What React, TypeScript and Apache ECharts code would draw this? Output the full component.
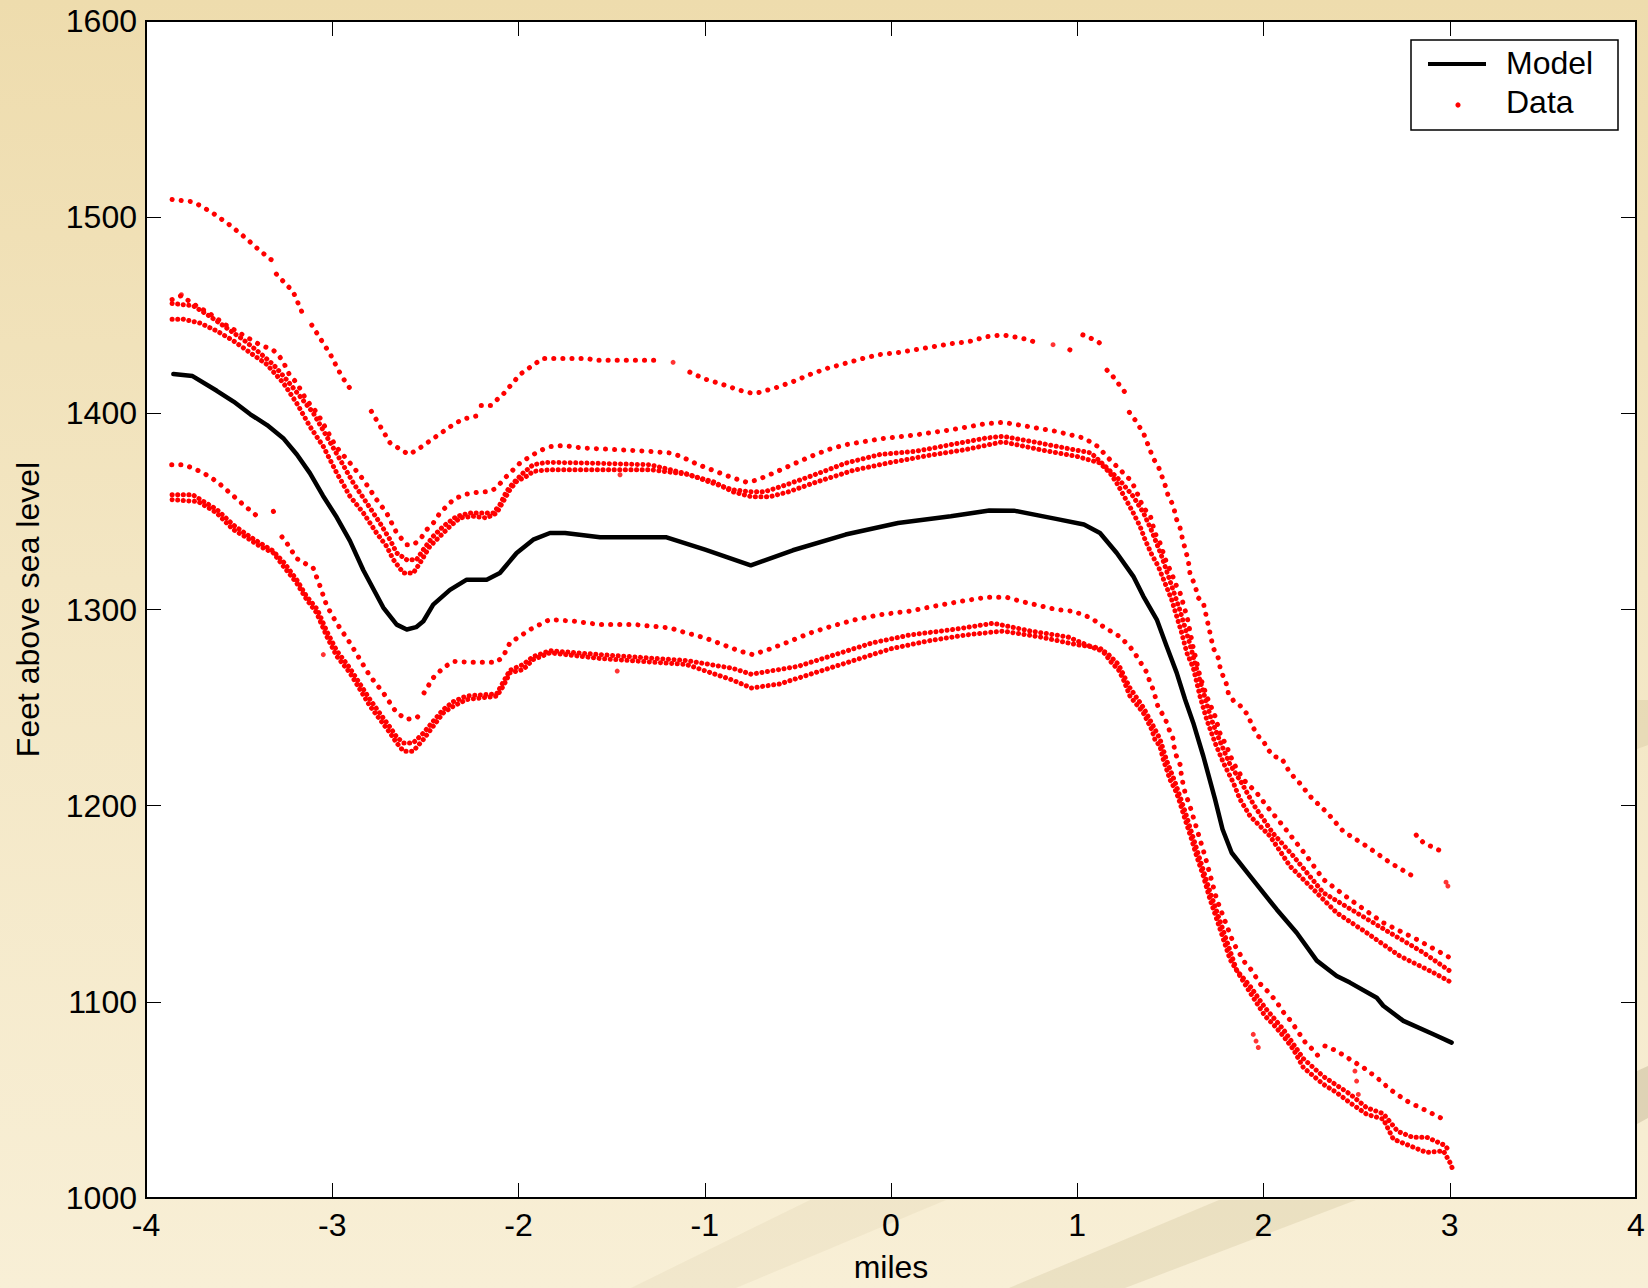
import React, { useEffect, useRef } from 'react';
import * as echarts from 'echarts';

type P = [number, number] | null;

const FONT = '"Liberation Sans", Arial, Helvetica, sans-serif';

const xTickValues = [-4, -3, -2, -1, 0, 1, 2, 3, 4];
const yTickValues = [1000, 1100, 1200, 1300, 1400, 1500, 1600];
const xAxisTitle = 'miles';
const yAxisTitle = 'Feet above sea level';
const legendLabels = ['Model', 'Data'];

const modelLine: P[] = [
  [-3.853, 1420], [-3.75, 1419], [-3.62, 1411.5], [-3.53, 1406], [-3.44, 1399.5], [-3.35, 1394],
  [-3.26, 1387], [-3.19, 1379], [-3.12, 1369.5], [-3.05, 1358], [-2.976, 1347], [-2.905, 1335],
  [-2.833, 1320], [-2.726, 1301], [-2.654, 1292.3], [-2.6, 1289.8], [-2.55, 1291], [-2.511, 1294],
  [-2.458, 1302.5], [-2.368, 1310], [-2.278, 1315.2], [-2.171, 1315.2], [-2.1, 1318.6], [-2.01, 1328.8],
  [-1.921, 1335.6], [-1.831, 1339], [-1.75, 1339], [-1.562, 1336.8], [-1.205, 1336.8], [-0.998, 1330.5],
  [-0.753, 1322.5], [-0.527, 1330.2], [-0.244, 1338.2], [0.038, 1344.1], [0.321, 1347.5], [0.528, 1350.5],
  [0.66, 1350.4], [0.886, 1346.2], [1.036, 1343.3], [1.122, 1339], [1.212, 1328.8], [1.301, 1316.9],
  [1.355, 1306.7], [1.427, 1294.9], [1.48, 1281.3], [1.534, 1267.7], [1.579, 1254.1], [1.623, 1242.2],
  [1.677, 1225.2], [1.74, 1203.2], [1.78, 1188], [1.829, 1176], [1.928, 1164.1], [2.071, 1147.1],
  [2.178, 1135.2], [2.286, 1121], [2.393, 1113.2], [2.464, 1109.8], [2.608, 1102.1], [2.643, 1098],
  [2.751, 1090.3], [2.912, 1083.5], [3.01, 1079.2],
];

// Measured tracks (sparse ones)
const trackA: P[] = [
  [-3.86, 1509], [-3.76, 1508], [-3.71, 1506], [-3.64, 1502], [-3.55, 1496], [-3.46, 1489], [-3.39, 1483], [-3.31, 1477],
  null,
  [-3.3, 1471], [-3.21, 1462], [-3.16, 1451],
  null,
  [-3.11, 1445], [-3.01, 1430], [-2.95, 1419], [-2.9, 1412],
  null,
  [-2.79, 1401], [-2.69, 1385], [-2.59, 1379], [-2.55, 1381], [-2.46, 1387], [-2.37, 1393], [-2.3, 1397], [-2.21, 1399],
  null,
  [-2.2, 1404], [-2.15, 1404], [-2.08, 1410], [-1.99, 1420], [-1.87, 1428], [-1.63, 1428], [-1.59, 1427], [-1.25, 1427],
  null,
  [-1.08, 1421], [-1.0, 1417.5], [-0.9, 1414.6], [-0.81, 1411.7], [-0.75, 1410.3], [-0.71, 1410.6], [-0.62, 1413],
  [-0.53, 1416], [-0.43, 1420], [-0.34, 1423], [-0.24, 1425.6], [-0.15, 1428], [-0.06, 1430], [0.04, 1431],
  [0.13, 1432.4], [0.23, 1434], [0.32, 1435.5], [0.42, 1436.6], [0.51, 1439], [0.6, 1440], [0.66, 1439],
  [0.74, 1437.5], [0.78, 1436],
  null,
  [0.96, 1432.4], [1.0, 1431],
  null,
  [1.03, 1440], [1.07, 1438.4], [1.11, 1436.6], [1.15, 1433.6],
  null,
  [1.16, 1422], [1.19, 1419], [1.23, 1414], [1.27, 1409],
  null,
  [1.28, 1400.5], [1.31, 1396.7], [1.355, 1390], [1.39, 1381.5], [1.408, 1377], [1.435, 1373], [1.471, 1363.6],
  [1.489, 1357.7], [1.516, 1353], [1.53, 1346.7], [1.552, 1341.6], [1.566, 1335.6], [1.596, 1325], [1.605, 1318.6],
  [1.632, 1312.3], [1.65, 1306], [1.677, 1303.4], [1.691, 1297.4], [1.713, 1288], [1.73, 1280.4], [1.757, 1275.3],
  [1.77, 1269], [1.799, 1262.6], [1.811, 1257.5], [1.838, 1253.6], [1.874, 1251], [1.918, 1246], [1.937, 1241],
  [1.972, 1235.4], [2.0, 1233], [2.017, 1229.5], [2.053, 1225.2], [2.098, 1224], [2.142, 1216.8], [2.196, 1211.3],
  [2.25, 1204.8], [2.341, 1196.5], [2.427, 1187], [2.556, 1179.2], [2.679, 1171], [2.803, 1164],
  null,
  [2.82, 1185], [2.86, 1181], [2.95, 1177],
];

const trackB1: P[] = [
  [-3.86, 1458], [-3.81, 1460], [-3.75, 1456], [-3.66, 1451], [-3.57, 1445], [-3.48, 1440], [-3.39, 1435],
  [-3.32, 1432.4], [-3.29, 1430], [-3.26, 1425.6], [-3.23, 1419.7], [-3.19, 1415.4], [-3.14, 1407], [-3.08, 1400],
  [-3.03, 1391.6], [-2.98, 1383], [-2.905, 1374.7], [-2.833, 1366.2], [-2.762, 1356], [-2.708, 1349.2],
  [-2.654, 1339], [-2.6, 1333], [-2.565, 1333], [-2.529, 1335.6], [-2.493, 1340.7], [-2.458, 1344],
  [-2.422, 1349.2], [-2.386, 1352.6], [-2.35, 1356], [-2.296, 1358.5], [-2.225, 1359.7], [-2.153, 1360.2],
  [-2.117, 1362], [-2.082, 1366.2], [-2.046, 1369.6], [-1.992, 1374.7], [-1.938, 1378], [-1.885, 1381],
  [-1.831, 1383], [-1.759, 1383.6], [-1.652, 1382.3], [-1.473, 1381.5], [-1.294, 1380.6], [-1.185, 1379.8],
  [-1.129, 1378.1], [-1.035, 1373.8], [-0.941, 1370.4], [-0.847, 1367], [-0.772, 1364.8], [-0.72, 1366],
  [-0.62, 1370], [-0.527, 1374], [-0.432, 1378], [-0.338, 1381.5], [-0.244, 1384], [-0.056, 1387],
  [0.133, 1389], [0.321, 1391.6], [0.509, 1394.7], [0.603, 1395.4], [0.735, 1393.3], [0.886, 1390.8],
  [1.036, 1387.4], [1.112, 1383], [1.158, 1378], [1.212, 1373], [1.283, 1366.2], [1.31, 1362], [1.355, 1351.8],
  [1.391, 1348.3], [1.417, 1339], [1.444, 1334], [1.48, 1323.7], [1.507, 1318.6], [1.525, 1313.5],
  [1.552, 1308.5], [1.591, 1295.7], [1.623, 1280.4], [1.659, 1266], [1.695, 1255.8], [1.74, 1245.6],
  [1.766, 1237], [1.802, 1230.3], [1.838, 1221.8], [1.892, 1213.3], [1.963, 1206.6], [2.017, 1199.8],
  [2.106, 1189.6], [2.232, 1174.3], [2.321, 1162.4], [2.464, 1152.2], [2.643, 1140.3], [2.823, 1131.8],
  [3.001, 1122.5],
];

const trackC: P[] = [
  [-3.862, 1373.8], [-3.8, 1373.8], [-3.746, 1372], [-3.692, 1369.6], [-3.62, 1365.3], [-3.549, 1359.4],
  [-3.477, 1353.4], [-3.406, 1347.8],
  null,
  [-3.316, 1350], [-3.298, 1345.8],
  null,
  [-3.27, 1337], [-3.245, 1334], [-3.191, 1326], [-3.102, 1321], [-3.066, 1312], [-3.03, 1302], [-2.976, 1293],
  [-2.905, 1283], [-2.851, 1274.5], [-2.797, 1266], [-2.726, 1257.5], [-2.654, 1247.3], [-2.6, 1244],
  [-2.547, 1244.8], [-2.52, 1247.3],
  null,
  [-2.507, 1257.5], [-2.458, 1265.2], [-2.404, 1270.3], [-2.35, 1273.6], [-2.26, 1273.1], [-2.117, 1273.1],
  [-2.082, 1276.2], [-2.046, 1283], [-1.992, 1286.4], [-1.938, 1289.8], [-1.867, 1293.2], [-1.831, 1294.9],
  [-1.7, 1294], [-1.562, 1292.3], [-1.374, 1292.3], [-1.185, 1290.6], [-1.129, 1288.9], [-0.998, 1285.5],
  [-0.903, 1282.1], [-0.809, 1278.7], [-0.743, 1277], [-0.658, 1279.6], [-0.564, 1283], [-0.432, 1288.1],
  [-0.319, 1291.5], [-0.188, 1294.9], [-0.056, 1297.4], [0.095, 1299.1], [0.227, 1301.6], [0.378, 1304.2],
  [0.509, 1306.2], [0.622, 1306.2], [0.697, 1304.2], [0.773, 1302.5], [0.886, 1300], [0.98, 1299.1],
  [1.074, 1295.7], [1.15, 1290.6], [1.225, 1286.4], [1.281, 1281.3], [1.319, 1276.2], [1.375, 1267.7],
  [1.391, 1262.6], [1.408, 1259.2], [1.435, 1249.9], [1.471, 1244.8], [1.489, 1239.7], [1.513, 1234.6],
  [1.525, 1227], [1.552, 1221], [1.561, 1214.2], [1.579, 1206.6], [1.605, 1199.8], [1.686, 1174.3],
  [1.749, 1152.2], [1.838, 1130.1], [1.9, 1120], [1.937, 1116], [1.981, 1109.3], [2.026, 1105],
  [2.071, 1099.9], [2.106, 1094.8], [2.151, 1089.7], [2.187, 1084.6], [2.223, 1079.5], [2.268, 1075.3],
  [2.313, 1070.2],
];

const trackE: P[] = [
  [2.33, 1077.5], [2.393, 1075], [2.464, 1070.7], [2.536, 1066.5], [2.608, 1061.4], [2.679, 1055.4],
  [2.768, 1049.5], [2.858, 1045.3], [2.984, 1039.3],
];

// Measured tracks (dense ones)
const trackB2: P[] = [
  [-3.86, 1456], [-3.746, 1454.8], [-3.656, 1449.4], [-3.567, 1443.5], [-3.477, 1437.5], [-3.388, 1430.7],
  [-3.316, 1424.8], [-3.245, 1417.1], [-3.173, 1408.6], [-3.102, 1400.2], [-3.03, 1388.2], [-2.958, 1376.4],
  [-2.887, 1364.5], [-2.815, 1354.3], [-2.744, 1344.1], [-2.69, 1335.6], [-2.654, 1328.8], [-2.6, 1325.4],
  [-2.547, 1325.4], [-2.511, 1330.5], [-2.458, 1337.3], [-2.404, 1342.4], [-2.332, 1347.5], [-2.26, 1349.2],
  [-2.135, 1349.2], [-2.1, 1353.4], [-2.064, 1360.2], [-2.028, 1364.5], [-1.975, 1369.6], [-1.921, 1373.8],
  [-1.849, 1375], [-1.652, 1374.7], [-1.294, 1373.8], [-1.09, 1369], [-0.96, 1364.5], [-0.85, 1361],
  [-0.75, 1360], [-0.68, 1360], [-0.58, 1363], [-0.43, 1368], [-0.24, 1374.7], [-0.06, 1379], [0.13, 1380.6],
  [0.32, 1384], [0.51, 1387.4], [0.6, 1388.3], [0.79, 1385], [0.98, 1381.5], [1.074, 1379.8], [1.15, 1373],
  [1.225, 1366.2], [1.3, 1357.7], [1.356, 1349.2], [1.4, 1340], [1.45, 1328], [1.5, 1314], [1.55, 1300],
  [1.6, 1284], [1.64, 1270], [1.68, 1257], [1.72, 1244], [1.77, 1232], [1.82, 1221], [1.88, 1212],
  [1.95, 1200], [2.05, 1186], [2.16, 1174.3], [2.321, 1155.6], [2.5, 1145.4], [2.679, 1135.2],
  [2.858, 1125.1], [3.001, 1115.7],
];

const trackB3: P[] = [
  [-3.86, 1448], [-3.8, 1448], [-3.709, 1446], [-3.62, 1442], [-3.531, 1437], [-3.442, 1431], [-3.352, 1425],
  [-3.262, 1415.4], [-3.191, 1405.2], [-3.12, 1393.3], [-3.048, 1383.1], [-2.976, 1369.6], [-2.905, 1357.7],
  [-2.833, 1349.2], [-2.762, 1339], [-2.708, 1332.2], [-2.672, 1325.4], [-2.618, 1318.6], [-2.565, 1318.6],
  [-2.529, 1323.7], [-2.476, 1332.2], [-2.422, 1337.3], [-2.368, 1342.4], [-2.314, 1346.7], [-2.243, 1347.5],
  [-2.171, 1346.7], [-2.117, 1349.2], [-2.082, 1355.1], [-2.046, 1361.1], [-2.01, 1365.3], [-1.957, 1367.9],
  [-1.921, 1370.4], [-1.831, 1371.3], [-1.294, 1371.3], [-1.1, 1369], [-0.95, 1365], [-0.85, 1360],
  [-0.75, 1357.5], [-0.65, 1357.5], [-0.55, 1360], [-0.4, 1365], [-0.2, 1371], [0.0, 1375], [0.2, 1378.5],
  [0.4, 1381.5], [0.6, 1385.5], [0.8, 1381.5], [1.0, 1378], [1.122, 1374.7], [1.176, 1369.6], [1.212, 1364.5],
  [1.257, 1356.8], [1.301, 1349.2], [1.337, 1342.4], [1.364, 1335.6], [1.4, 1328], [1.435, 1322],
  [1.471, 1313.5], [1.507, 1305], [1.534, 1296.5], [1.561, 1288], [1.588, 1278], [1.623, 1270.3],
  [1.659, 1255.8], [1.695, 1243.9], [1.74, 1232], [1.785, 1221.8], [1.838, 1211.7], [1.874, 1203.2],
  [1.928, 1194.7], [2.035, 1184.5], [2.142, 1169.2], [2.25, 1159], [2.393, 1145.4], [2.554, 1135.2],
  [2.733, 1123.3], [2.912, 1114.9], [3.01, 1109.8],
];

const trackD1: P[] = [
  [-3.86, 1358.5], [-3.75, 1358.5], [-3.62, 1351], [-3.53, 1343], [-3.44, 1337], [-3.39, 1334], [-3.32, 1330],
  [-3.26, 1324], [-3.19, 1315], [-3.14, 1307], [-3.08, 1300], [-3.03, 1289], [-2.976, 1279], [-2.905, 1270],
  [-2.851, 1262], [-2.797, 1254], [-2.744, 1247], [-2.69, 1240], [-2.654, 1235], [-2.618, 1232],
  [-2.565, 1232], [-2.511, 1237], [-2.458, 1243], [-2.404, 1249], [-2.35, 1253], [-2.278, 1256],
  [-2.117, 1257], [-2.082, 1263], [-2.046, 1269], [-1.975, 1272], [-1.921, 1276], [-1.831, 1279],
  [-1.56, 1277], [-1.1, 1274], [-0.85, 1270], [-0.75, 1267], [-0.5, 1271], [-0.3, 1277], [-0.1, 1283],
  [0.1, 1287], [0.35, 1290], [0.55, 1293], [0.75, 1289], [0.95, 1286], [1.1, 1280], [1.158, 1278],
  [1.221, 1272], [1.283, 1260], [1.355, 1250], [1.4, 1242], [1.444, 1234], [1.48, 1223], [1.525, 1212],
  [1.579, 1197], [1.641, 1178], [1.713, 1156], [1.785, 1136], [1.856, 1116], [1.928, 1108], [2.008, 1097],
  [2.106, 1086], [2.214, 1071], [2.321, 1062], [2.464, 1053], [2.554, 1046], [2.643, 1043], [2.72, 1034],
  [2.8, 1031], [2.876, 1031], [2.97, 1027], [3.0, 1024],
];

const trackD2: P[] = [
  [-3.86, 1356], [-3.72, 1355], [-3.62, 1349.2], [-3.531, 1340.7], [-3.442, 1335.6], [-3.388, 1332.2],
  [-3.316, 1328.8], [-3.262, 1322], [-3.191, 1313.5], [-3.137, 1305], [-3.084, 1298.3], [-3.03, 1286.4],
  [-2.976, 1276.2], [-2.905, 1267.7], [-2.851, 1259.2], [-2.797, 1250.7], [-2.744, 1243.9], [-2.69, 1237.1],
  [-2.654, 1232], [-2.618, 1227.8], [-2.565, 1227.8], [-2.511, 1233.7], [-2.458, 1240.5], [-2.404, 1247.3],
  [-2.35, 1250.7], [-2.278, 1254.1], [-2.117, 1255.8], [-2.082, 1260.9], [-2.046, 1267.7], [-1.975, 1269.4],
  [-1.921, 1274.5], [-1.831, 1277.9], [-1.56, 1275], [-1.1, 1272], [-0.85, 1264], [-0.75, 1260], [-0.6, 1262],
  [-0.4, 1268], [-0.2, 1274], [0.0, 1280], [0.2, 1284], [0.4, 1287], [0.6, 1289], [0.8, 1286], [1.0, 1282],
  [1.122, 1280.4], [1.158, 1276.2], [1.185, 1272.8], [1.221, 1269.4], [1.248, 1264.3], [1.283, 1255.8],
  [1.355, 1247.3], [1.373, 1243.9], [1.4, 1238.8], [1.417, 1233.7], [1.444, 1230.3], [1.462, 1223.5],
  [1.48, 1218.4], [1.498, 1213.3], [1.525, 1208.3], [1.543, 1204], [1.579, 1193], [1.614, 1182.8],
  [1.641, 1174.3], [1.677, 1164.1], [1.713, 1152.2], [1.749, 1142.1], [1.785, 1131.8], [1.82, 1121.7],
  [1.874, 1113.2], [1.928, 1104.7], [2.008, 1092.8], [2.053, 1088.5], [2.106, 1082.6], [2.16, 1075.8],
  [2.214, 1066.5], [2.268, 1062.2], [2.321, 1058], [2.393, 1053.7], [2.464, 1048.6], [2.554, 1042.7],
  [2.643, 1040.2], [2.697, 1030], [2.786, 1026.6], [2.876, 1023.2], [2.966, 1024], [3.001, 1018.1],
  [3.019, 1013.9],
];

const isolatedPoints: [number, number][] = [
  [-1.17, 1426], [0.87, 1435], [2.98, 1161], [2.99, 1159], [-1.455, 1368.7], [-1.47, 1268.6], [-3.048, 1277],
  [1.945, 1083.4], [1.96, 1080], [1.972, 1076.7], [2.491, 1064.7], [2.5, 1059.6], [2.509, 1052.8],
  [-3.81, 1460.5],
];

const sparseTracks = [trackA, trackB1, trackC, trackE];
const denseTracks = [trackB2, trackB3, trackD1, trackD2];

const toSeriesData = (pts: P[]) => pts.map((p) => (p ? p : [null, null]));

export default function App() {
  const ref = useRef<HTMLDivElement>(null);

  useEffect(() => {
    document.body.style.margin = '0';
    if (!ref.current) return;
    const chart = echarts.init(ref.current, null, { renderer: 'svg' });

    const dotLine = (gap: number) => ({
      color: '#ff0000',
      width: 5,
      type: [0.1, gap],
      cap: 'round',
    });

    const series: any[] = [];
    sparseTracks.forEach((t) => {
      series.push({
        name: legendLabels[1],
        type: 'line',
        data: toSeriesData(t),
        showSymbol: false,
        symbol: 'none',
        connectNulls: false,
        silent: true,
        lineStyle: dotLine(9),
        z: 3,
      });
    });
    denseTracks.forEach((t) => {
      series.push({
        name: legendLabels[1],
        type: 'line',
        data: toSeriesData(t),
        showSymbol: false,
        symbol: 'none',
        connectNulls: false,
        silent: true,
        lineStyle: dotLine(5.5),
        z: 3,
      });
    });
    series.push({
      name: legendLabels[1],
      type: 'scatter',
      data: isolatedPoints,
      symbol: 'circle',
      symbolSize: 5,
      itemStyle: { color: '#ff0000' },
      silent: true,
      z: 3,
    });
    series.push({
      name: legendLabels[0],
      type: 'line',
      data: toSeriesData(modelLine),
      showSymbol: false,
      symbol: 'none',
      silent: true,
      lineStyle: { color: '#000', width: 4.5, join: 'round', cap: 'round' },
      z: 4,
    });

    const axisCommon = {
      axisLine: { show: true, onZero: false, lineStyle: { color: '#000', width: 2 } },
      axisTick: { show: true, inside: true, length: 15, lineStyle: { color: '#000', width: 1 } },
      splitLine: { show: false },
    };

    const option: any = {
      animation: false,
      backgroundColor: 'transparent',
      grid: {
        left: 146,
        top: 21,
        right: 12,
        bottom: 90,
        show: true,
        backgroundColor: '#ffffff',
        borderColor: '#222',
        borderWidth: 2,
      },
      xAxis: [
        {
          type: 'value',
          min: xTickValues[0],
          max: xTickValues[xTickValues.length - 1],
          interval: 1,
          position: 'bottom',
          ...axisCommon,
          axisLabel: {
            fontSize: 32,
            color: '#000',
            fontFamily: FONT,
            margin: 11,
            formatter: (v: number) => String(v),
          },
          name: xAxisTitle,
          nameLocation: 'middle',
          nameGap: 53,
          nameTextStyle: { fontSize: 32, color: '#000', fontFamily: FONT },
        },
        {
          type: 'value',
          min: xTickValues[0],
          max: xTickValues[xTickValues.length - 1],
          interval: 1,
          position: 'top',
          ...axisCommon,
          axisLabel: { show: false },
        },
      ],
      yAxis: [
        {
          type: 'value',
          min: yTickValues[0],
          max: yTickValues[yTickValues.length - 1],
          interval: 100,
          position: 'left',
          ...axisCommon,
          axisLabel: {
            fontSize: 32,
            color: '#000',
            fontFamily: FONT,
            margin: 9,
            formatter: (v: number) => String(v),
          },
          name: yAxisTitle,
          nameLocation: 'middle',
          nameRotate: 90,
          nameGap: 102,
          nameTextStyle: { fontSize: 32, color: '#000', fontFamily: FONT },
        },
        {
          type: 'value',
          min: yTickValues[0],
          max: yTickValues[yTickValues.length - 1],
          interval: 100,
          position: 'right',
          ...axisCommon,
          axisLabel: { show: false },
        },
      ],
      graphic: [
        {
          type: 'polygon',
          silent: true,
          z: -10,
          shape: { points: [[631, 1288], [736, 1288], [946, 1200], [810, 1200]] },
          style: { fill: 'rgba(190,170,120,0.10)' },
        },
        {
          type: 'polygon',
          silent: true,
          z: -10,
          shape: { points: [[1009, 1288], [1125, 1288], [1356, 1200], [1219, 1200]] },
          style: { fill: 'rgba(180,160,110,0.18)' },
        },
        {
          type: 'polygon',
          silent: true,
          z: -10,
          shape: { points: [[1637, 1071], [1648, 1066], [1648, 1118], [1637, 1124]] },
          style: { fill: 'rgba(150,135,100,0.25)' },
        },
        {
          type: 'polygon',
          silent: true,
          z: -10,
          shape: { points: [[1637, 700], [1648, 700], [1648, 745], [1637, 749]] },
          style: { fill: 'rgba(180,160,110,0.18)' },
        },
        {
          type: 'rect',
          silent: true,
          z: 100,
          shape: { x: 1411, y: 40, width: 207, height: 90 },
          style: { fill: '#ffffff', stroke: '#000', lineWidth: 1.5 },
        },
        {
          type: 'line',
          silent: true,
          z: 101,
          shape: { x1: 1428, y1: 64, x2: 1486, y2: 64 },
          style: { stroke: '#000', lineWidth: 4 },
        },
        {
          type: 'circle',
          silent: true,
          z: 101,
          shape: { cx: 1458, cy: 105, r: 2.6 },
          style: { fill: '#ff0000' },
        },
        {
          type: 'text',
          silent: true,
          z: 101,
          x: 1506,
          y: 63,
          style: {
            text: legendLabels[0],
            fontSize: 32,
            fontFamily: FONT,
            fill: '#000',
            verticalAlign: 'middle',
            textVerticalAlign: 'middle',
          },
        },
        {
          type: 'text',
          silent: true,
          z: 101,
          x: 1506,
          y: 102,
          style: {
            text: legendLabels[1],
            fontSize: 32,
            fontFamily: FONT,
            fill: '#000',
            verticalAlign: 'middle',
            textVerticalAlign: 'middle',
          },
        },
      ],
      series,
    };

    chart.setOption(option);
    return () => chart.dispose();
  }, []);

  return (
    <div
      ref={ref}
      style={{
        width: 1648,
        height: 1288,
        background: 'linear-gradient(180deg, #eedcad 0%, #f3e6c3 45%, #f8efd6 100%)',
      }}
    />
  );
}
